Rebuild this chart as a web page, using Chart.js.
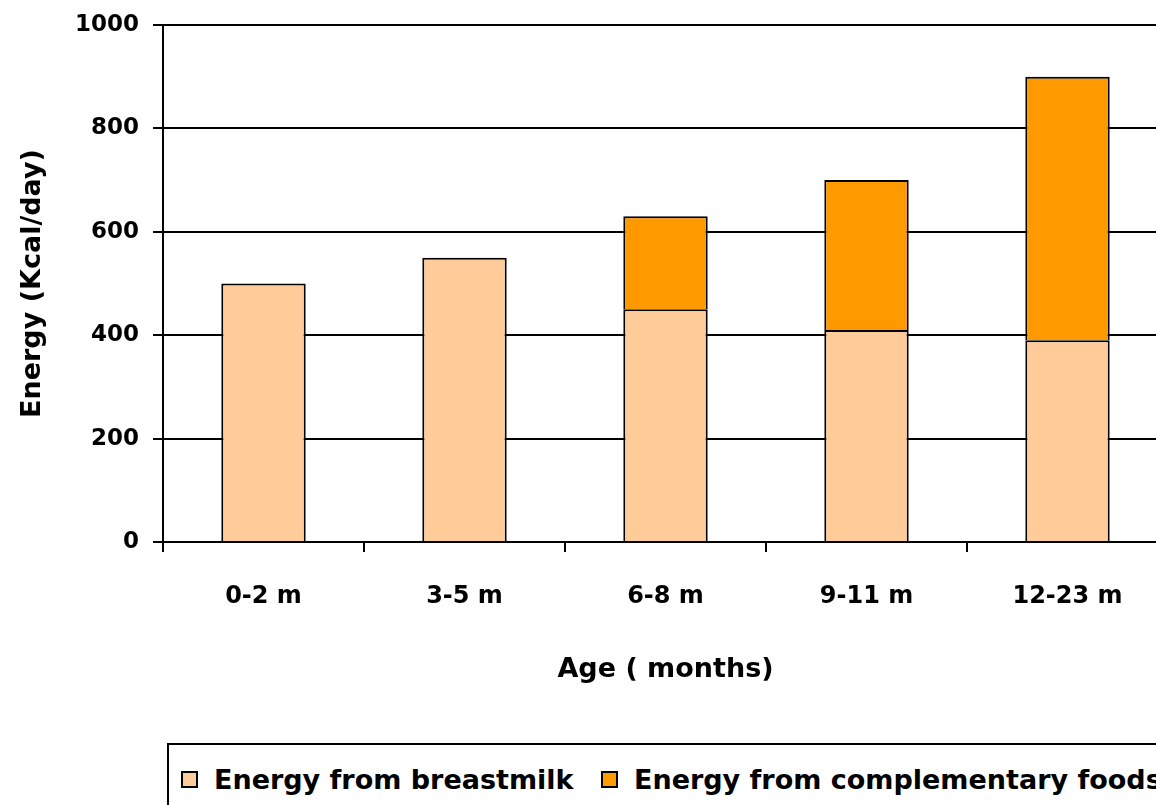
<!DOCTYPE html>
<html>
<head>
<meta charset="utf-8">
<script src="https://cdn.jsdelivr.net/npm/chart.js@4/dist/chart.umd.min.js"></script>
<style>
    html, body { margin: 0; padding: 0; background: #fff; }
    body { width: 1156px; height: 805px; overflow: hidden; position: relative; }
    #chartWrap { position: absolute; left: 0; top: 0; width: 1180px; height: 740px; }
    #legend {
        position: absolute; left: 167px; top: 743px; width: 1100px; height: 90px;
        border: 2px solid #000; box-sizing: border-box;
        font-family: "Comic Sans MS", "DejaVu Sans", sans-serif; font-weight: bold; font-size: 27px;
        white-space: nowrap;
    }
    .item { position: absolute; top: 19px; display: flex; align-items: center; }
    .swatch { width: 17px; height: 17px; border: 2px solid #000; margin-right: 16px; box-sizing: border-box; }
</style>
</head>
<body>
<div id="chartWrap"><canvas id="energyChart" width="1180" height="740"></canvas></div>
<div id="legend"></div>
<script>
const ageGroups = ['0-2 m', '3-5 m', '6-8 m', '9-11 m', '12-23 m'];
const breastmilkEnergy = [500, 550, 450, 410, 390];
const complementaryEnergy = [null, null, 180, 290, 510];
const seriesNames = ['Energy from breastmilk', 'Energy from complementary foods'];
const seriesColors = ['#FFCC99', '#FF9900'];
const yTicks = [0, 200, 400, 600, 800, 1000];

const fontFamily = '"Comic Sans MS", "DejaVu Sans", sans-serif';

const ctx = document.getElementById('energyChart').getContext('2d');
const chart = new Chart(ctx, {
    type: 'bar',
    data: {
        labels: ageGroups,
        datasets: [
            {
                label: seriesNames[0],
                data: breastmilkEnergy,
                backgroundColor: seriesColors[0],
                borderColor: '#000',
                borderWidth: 2
            },
            {
                label: seriesNames[1],
                data: complementaryEnergy,
                backgroundColor: seriesColors[1],
                borderColor: '#000',
                borderWidth: 2
            }
        ]
    },
    options: {
        responsive: false,
        animation: false,
        layout: { padding: { top: 25, right: 12, bottom: 28, left: 0 } },
        plugins: { legend: { display: false }, tooltip: { enabled: false } },
        datasets: { bar: { categoryPercentage: 1, barPercentage: 0.42 } },
        scales: {
            x: {
                stacked: true,
                offset: true,
                grid: { offset: true, drawOnChartArea: false, drawTicks: true, tickLength: 10, color: '#000', lineWidth: 2 },
                border: { color: '#000', width: 2 },
                ticks: { color: '#000', padding: 30, font: { family: fontFamily, size: 24, weight: 'bold' } },
                title: {
                    display: true, text: 'Age ( months)', color: '#000',
                    font: { family: fontFamily, size: 27, weight: 'bold' },
                    padding: { top: 0, bottom: 26 }
                },
                afterFit: scale => { scale.height = 170; }
            },
            y: {
                stacked: true,
                min: 0,
                max: 1000,
                afterBuildTicks: scale => { scale.ticks = yTicks.map(v => ({ value: v })); },
                grid: { color: '#000', lineWidth: 2, tickLength: 10 },
                border: { color: '#000', width: 2 },
                ticks: {
                    color: '#000', padding: 14,
                    font: { family: fontFamily, size: 23, weight: 'bold' },
                    callback: value => String(value)
                },
                title: {
                    display: true, text: 'Energy (Kcal/day)', color: '#000',
                    font: { family: fontFamily, size: 27, weight: 'bold' },
                    padding: { top: 17, bottom: 0 }
                },
                afterFit: scale => {
                    scale.width = 163;
                    scale.paddingTop = 0;
                    scale.paddingBottom = 0;
                }
            }
        }
    }
});

// legend built from the chart datasets
const legend = document.getElementById('legend');
const itemLefts = [12, 432];
chart.data.datasets.forEach((ds, i) => {
    const item = document.createElement('div');
    item.className = 'item';
    item.style.left = itemLefts[i] + 'px';
    item.innerHTML = `<span class="swatch" style="background:${ds.backgroundColor}"></span><span>${ds.label}</span>`;
    legend.appendChild(item);
});
</script>
</body>
</html>
